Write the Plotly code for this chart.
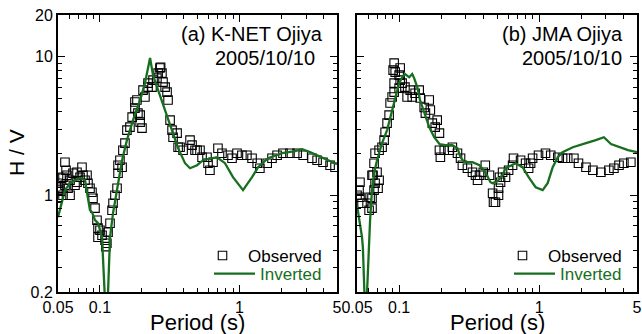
import plotly.graph_objects as go

# ---------------- data ----------------
# (a) K-NET Ojiya - observed H/V
obs_a_period = [0.05, 0.05, 0.05, 0.0517, 0.0525, 0.0543, 0.0543, 0.0561, 0.0561, 0.0571,
                0.058, 0.059, 0.061, 0.061, 0.064, 0.0662, 0.0684, 0.0684, 0.0719, 0.0743,
                0.0755, 0.0781, 0.0807, 0.082, 0.0848, 0.0876, 0.0891, 0.0921, 0.0952, 0.0968,
                0.0968, 0.100, 0.1034, 0.1087, 0.110, 0.112, 0.1142, 0.118, 0.122, 0.124,
                0.128, 0.1325, 0.1347, 0.1347, 0.139, 0.144, 0.146, 0.151, 0.156, 0.164,
                0.170, 0.178, 0.178, 0.184, 0.187, 0.194, 0.194, 0.200, 0.2035, 0.210,
                0.221, 0.221, 0.236, 0.240, 0.256, 0.261, 0.269, 0.272, 0.278, 0.283,
                0.293, 0.3025, 0.3075, 0.318, 0.3285, 0.334, 0.357, 0.363, 0.375, 0.394,
                0.442, 0.457, 0.480, 0.4965, 0.521, 0.539, 0.585, 0.595, 0.614, 0.646,
                0.701, 0.749, 0.827, 0.884, 0.960, 1.04, 1.13, 1.23, 1.34, 1.40,
                1.58, 1.71, 1.86, 2.05, 2.30, 2.59, 2.86, 3.31, 3.60, 3.97,
                4.46, 4.84]
obs_a_hv = [1.221, 1.087, 0.951, 1.123, 1.327, 1.349, 1.0, 1.730, 1.181, 1.515,
            1.394, 1.123, 1.0, 1.283, 1.441, 1.181, 1.466, 1.241, 1.349, 1.592,
            1.394, 1.283, 1.394, 1.221, 1.123, 1.051, 0.951, 0.806, 0.660, 0.578,
            0.497, 0.559, 0.514, 0.473, 0.425, 0.45, 0.540, 0.628, 0.779, 0.875,
            1.0, 1.123, 1.441, 1.646, 1.789, 1.592, 2.113, 2.375, 2.950, 3.10,
            3.66, 4.256, 4.704, 4.863, 3.916, 3.37, 3.788, 3.050, 5.738, 5.112,
            6.446, 6.031, 6.031, 6.776, 7.005, 7.614, 8.276, 8.40, 7.614, 6.554,
            6.031, 5.55, 4.863, 3.486, 2.950, 2.62, 2.806, 2.22, 2.22, 2.113,
            2.497, 2.298, 2.113, 2.113, 2.113, 1.880, 1.880, 1.702, 1.515, 1.730,
            2.185, 2.010, 1.944, 1.849, 2.010, 1.944, 1.944, 1.849, 1.702, 1.566,
            1.702, 1.849, 1.944, 2.010, 2.010, 2.010, 1.944, 1.849, 1.789, 1.730,
            1.646, 1.592]

# (a) K-NET Ojiya - inverted H/V
inv_a_period = [0.05, 0.0534, 0.0561, 0.061, 0.0662, 0.0719, 0.0781, 0.082, 0.0848, 0.0876,
                0.0921, 0.0968, 0.100, 0.1034, 0.105, 0.1078, 0.1115, 0.1142, 0.118, 0.124,
                0.1325, 0.139, 0.144, 0.156, 0.1725, 0.194, 0.210, 0.2285, 0.240, 0.261,
                0.293, 0.3285, 0.363, 0.407, 0.442, 0.4965, 0.548, 0.690, 0.787, 0.898,
                1.06, 1.23, 1.36, 1.60, 2.02, 2.50, 2.81, 3.20, 3.90, 4.84, 5.0]
inv_a_hv = [0.694, 0.92, 1.087, 1.221, 1.283, 1.327, 1.283, 0.951, 0.779, 0.754,
            0.660, 0.628, 0.559, 0.497, 0.356, 0.2, 0.1, 0.2, 0.497, 0.742,
            1.087, 1.515, 1.789, 2.497, 3.486, 4.863, 6.446, 9.778, 7.365, 5.738,
            4.117, 2.950, 2.185, 1.702, 1.566, 1.646, 1.789, 1.880, 1.702, 1.349,
            1.087, 1.349, 1.592, 1.849, 2.010, 2.08, 2.15, 2.045, 1.880, 1.702, 1.674]

# (b) JMA Ojiya - observed H/V
obs_b_period = [0.05, 0.0517, 0.0525, 0.0525, 0.0543, 0.059, 0.061, 0.062, 0.064, 0.064,
                0.064, 0.0651, 0.0662, 0.0662, 0.0673, 0.0673, 0.0695, 0.0707, 0.0719, 0.0719,
                0.0755, 0.0781, 0.0794, 0.082, 0.0848, 0.0862, 0.0891, 0.0921, 0.0921, 0.0906,
                0.0921, 0.0937, 0.100, 0.1017, 0.1017, 0.100, 0.105, 0.110, 0.114, 0.120,
                0.124, 0.130, 0.139, 0.1415, 0.151, 0.154, 0.164, 0.167, 0.1725, 0.181,
                0.187, 0.194, 0.194, 0.197, 0.210, 0.2285, 0.240, 0.261, 0.2745, 0.283,
                0.3075, 0.334, 0.351, 0.363, 0.375, 0.399, 0.4125, 0.442, 0.465, 0.472,
                0.4875, 0.5125, 0.5125, 0.521, 0.53, 0.548, 0.575, 0.605, 0.646, 0.656,
                0.737, 0.80, 0.841, 0.869, 0.898, 0.99, 1.11, 1.21, 1.36, 1.47,
                1.60, 1.77, 1.91, 2.16, 2.42, 2.76, 3.15, 3.42, 3.72, 4.03,
                4.52]
obs_b_hv = [1.0, 1.087, 1.241, 0.967, 0.875, 0.875, 0.779, 0.967, 0.806, 0.951,
            1.394, 1.394, 1.087, 1.702, 1.221, 2.010, 1.466, 1.123, 1.283, 2.113,
            2.22, 2.497, 2.85, 3.315, 3.788, 4.626, 5.112, 5.55, 6.446, 8.0,
            8.99, 7.74, 7.365, 8.276, 6.776, 5.932, 6.446, 6.031, 5.112, 5.738,
            5.112, 5.45, 5.738, 5.028, 4.3, 3.916, 4.863, 4.117, 3.315, 3.1,
            3.486, 2.806, 2.113, 1.880, 2.113, 2.113, 2.22, 2.010, 1.849, 1.646,
            1.566, 1.466, 1.394, 1.283, 1.394, 1.466, 1.646, 1.394, 1.034, 0.89,
            0.89, 1.0, 1.123, 1.349, 1.241, 1.466, 1.349, 1.515, 1.646, 1.849,
            1.789, 1.702, 1.566, 1.702, 1.849, 1.944, 2.010, 1.944, 1.880, 1.849,
            1.849, 1.849, 1.702, 1.592, 1.515, 1.466, 1.515, 1.566, 1.646, 1.702,
            1.730]

# (b) JMA Ojiya - inverted H/V
inv_b_period = [0.05, 0.0517, 0.0543, 0.0551, 0.0567, 0.0578, 0.059, 0.061, 0.062, 0.064,
                0.0662, 0.0695, 0.0755, 0.082, 0.0865, 0.0937, 0.100, 0.105, 0.1103, 0.118,
                0.124, 0.128, 0.1347, 0.141, 0.151, 0.164, 0.178, 0.194, 0.214, 0.240,
                0.261, 0.2745, 0.2915, 0.334, 0.375, 0.4125, 0.449, 0.465, 0.504, 0.548,
                0.575, 0.678, 0.762, 0.841, 0.944, 1.06, 1.15, 1.25, 1.36, 1.47,
                1.74, 1.98, 2.16, 2.54, 2.90, 3.26, 3.72, 4.31, 5.0]
inv_b_hv = [0.847, 0.694, 0.497, 0.415, 0.2, 0.1, 0.2, 0.497, 0.66, 1.087,
            1.441, 1.789, 2.375, 2.950, 3.66, 5.112, 6.446, 7.1, 7.5, 7.1,
            7.5, 7.005, 6.031, 4.863, 3.916, 3.10, 2.62, 2.34, 2.298, 2.298,
            2.185, 1.880, 1.730, 1.730, 1.646, 1.466, 1.241, 1.221, 1.26, 1.394,
            1.566, 1.702, 1.592, 1.349, 1.142, 1.087, 1.221, 1.592, 1.880, 2.045,
            2.22, 2.298, 2.375, 2.497, 2.62, 2.34, 2.22, 2.113, 2.045]

panel_titles = ["(a) K-NET Ojiya", "(b) JMA Ojiya"]
date_label = "2005/10/10"
x_title = "Period (s)"
y_title = "H / V"
x_tickvals = [0.05, 0.1, 1, 5]
x_ticktext = ["0.05", "0.1", "1", "5"]
x_minor = [0.06, 0.07, 0.08, 0.09, 0.2, 0.3, 0.4, 0.5, 0.6, 0.7, 0.8, 0.9, 2, 3, 4]
y_tickvals = [0.2, 1, 10, 20]
y_ticktext = ["0.2", "1", "10", "20"]
y_minor = [0.3, 0.4, 0.5, 0.6, 0.7, 0.8, 0.9, 2, 3, 4, 5, 6, 7, 8, 9]

# ---------------- figure ----------------
GREEN = "#176e1e"
FONT = "Liberation Sans, Arial, sans-serif"

W, H = 642, 334
ML, MR, MT, MB = 58, 5, 15, 42
PW, PH = W - ML - MR, H - MT - MB


def px_x(px):
    return (px - ML) / PW


def px_y(py):
    return (H - MB - py) / PH


fig = go.Figure()

panels = [
    (obs_a_period, obs_a_hv, inv_a_period, inv_a_hv, "x", "y", "legend", "legend2"),
    (obs_b_period, obs_b_hv, inv_b_period, inv_b_hv, "x2", "y2", "legend3", "legend4"),
]
for op, oh, ip, ih, xa, ya, lg1, lg2 in panels:
    fig.add_trace(go.Scatter(
        x=op, y=oh, mode="markers", name="Observed",
        marker=dict(symbol="square-open", size=8.5, color="black", line=dict(width=1.1, color="black")),
        xaxis=xa, yaxis=ya, legend=lg1))
    fig.add_trace(go.Scatter(
        x=ip, y=ih, mode="lines", name="<span style='color:%s'>Inverted</span>" % GREEN,
        line=dict(color=GREEN, width=2.3),
        xaxis=xa, yaxis=ya, legend=lg2))

xl = [px_x(58), px_x(337)]
xr = [px_x(357), px_x(637)]
yd = [0, 1]


def xaxis_cfg(domain, anchor):
    return dict(
        type="log", domain=domain, anchor=anchor, automargin=False,
        range=[-1.30103, 0.69897],
        tickvals=x_tickvals, ticktext=x_ticktext,
        ticks="inside", ticklen=7, tickwidth=1.3, tickcolor="black",
        minor=dict(tickvals=x_minor, ticks="inside", ticklen=4, tickwidth=1.1, tickcolor="black"),
        showline=True, linecolor="black", linewidth=2, mirror="ticks",
        showgrid=False, zeroline=False,
        tickfont=dict(family=FONT, size=16, color="black"),
    )


def yaxis_cfg(anchor, labels):
    return dict(
        type="log", domain=yd, anchor=anchor, automargin=False,
        range=[-0.69897, 1.30103],
        tickvals=y_tickvals, ticktext=y_ticktext,
        ticks="inside", ticklen=7, tickwidth=1.3, tickcolor="black",
        minor=dict(tickvals=y_minor, ticks="inside", ticklen=4, tickwidth=1.1, tickcolor="black"),
        showline=True, linecolor="black", linewidth=2, mirror="ticks",
        showgrid=False, zeroline=False,
        showticklabels=labels,
        tickfont=dict(family=FONT, size=16, color="black"),
    )


legend_common = dict(xanchor="right", yanchor="middle",
                     bgcolor="rgba(0,0,0,0)", borderwidth=0,
                     font=dict(family=FONT, size=17, color="black"),
                     tracegroupgap=0, itemwidth=41)

fig.update_layout(
    width=W, height=H,
    margin=dict(l=ML, r=MR, t=MT, b=MB, autoexpand=False),
    paper_bgcolor="white", plot_bgcolor="white",
    font=dict(family=FONT, color="black"),
    xaxis=xaxis_cfg(xl, "y"),
    yaxis=yaxis_cfg("x", True),
    xaxis2=xaxis_cfg(xr, "y2"),
    yaxis2=yaxis_cfg("x2", False),
    legend=dict(x=px_x(327), y=px_y(256), **legend_common),
    legend2=dict(x=px_x(327), y=px_y(274), **legend_common),
    legend3=dict(x=px_x(627), y=px_y(256), **legend_common),
    legend4=dict(x=px_x(627), y=px_y(274), **legend_common),
    showlegend=True,
)

ann = [
    ("x domain", "y domain", 0.957, 0.931, panel_titles[0]),
    ("x domain", "y domain", 0.928, 0.843, date_label),
    ("x2 domain", "y2 domain", 0.957, 0.931, panel_titles[1]),
    ("x2 domain", "y2 domain", 0.954, 0.843, date_label),
]
for xr_, yr_, xx, yy, txt in ann:
    fig.add_annotation(xref=xr_, yref=yr_, x=xx, y=yy, text=txt, showarrow=False,
                       xanchor="right", yanchor="middle",
                       font=dict(family=FONT, size=20, color="black"))

# axis titles
for xr_ in ["x domain", "x2 domain"]:
    fig.add_annotation(xref=xr_, yref="paper", x=0.5, y=px_y(322.5), text=x_title,
                       showarrow=False, xanchor="center", yanchor="middle",
                       font=dict(family=FONT, size=22, color="black"))
fig.add_annotation(xref="paper", yref="paper", x=px_x(16), y=px_y(153), text=y_title,
                   textangle=-90, showarrow=False, xanchor="center", yanchor="middle",
                   font=dict(family=FONT, size=21, color="black"))

fig.write_html("out.html",
               config={"displayModeBar": False},
               post_script="document.body.style.margin='0';document.body.style.padding='0';")
